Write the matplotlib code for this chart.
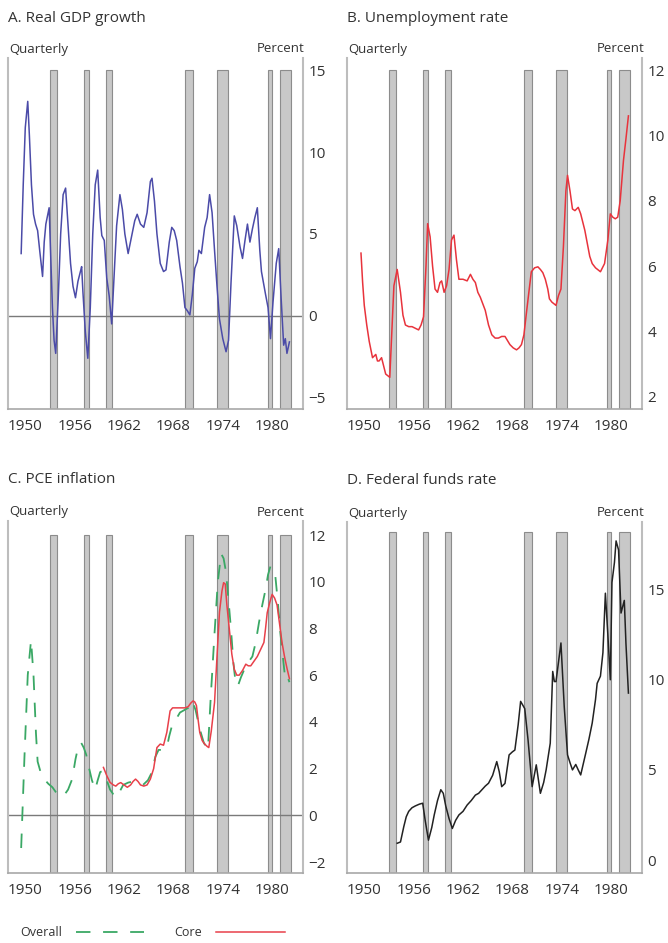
import matplotlib
matplotlib.use("Agg")
import matplotlib.pyplot as plt
from matplotlib.lines import Line2D

# recession periods (start, end) in fractional years
rec_start = [1953.5, 1957.58, 1960.25, 1969.92, 1973.83, 1980.0, 1981.5]
rec_end = [1954.37, 1958.29, 1961.08, 1970.83, 1975.17, 1980.5, 1982.83]

tick_years = [1950, 1956, 1962, 1968, 1974, 1980]

gdp_years = [1950.0, 1950.25, 1950.5, 1950.8, 1951.0, 1951.25, 1951.5, 1951.75, 1952.0, 1952.25,
             1952.6, 1952.8, 1953.0, 1953.4, 1953.6, 1953.8, 1954.0, 1954.2, 1954.5, 1954.8,
             1955.1, 1955.4, 1955.7, 1956.0, 1956.3, 1956.6, 1956.9, 1957.2, 1957.35, 1957.5,
             1957.8, 1958.1, 1958.4, 1958.7, 1959.0, 1959.3, 1959.6, 1959.8, 1960.1, 1960.4,
             1960.7, 1961.0, 1961.3, 1961.6, 1962.0, 1962.3, 1962.6, 1963.0, 1963.4, 1963.8,
             1964.1, 1964.5, 1964.9, 1965.3, 1965.7, 1965.9, 1966.2, 1966.5, 1966.9, 1967.3,
             1967.6, 1968.0, 1968.3, 1968.6, 1968.9, 1969.3, 1969.6, 1969.9, 1970.2, 1970.5,
             1970.8, 1971.1, 1971.4, 1971.6, 1971.9, 1972.3, 1972.6, 1972.9, 1973.2, 1973.5,
             1973.8, 1974.1, 1974.5, 1974.9, 1975.2, 1975.5, 1975.9, 1976.2, 1976.6, 1976.9,
             1977.2, 1977.5, 1977.8, 1978.1, 1978.4, 1978.7, 1979.0, 1979.2, 1979.7, 1980.0,
             1980.3, 1980.6, 1981.0, 1981.3, 1981.6, 1981.9, 1982.1, 1982.3, 1982.6]
gdp_values = [3.8, 8.0, 11.5, 13.1, 11.0, 8.0, 6.2, 5.6, 5.2, 4.0,
              2.4, 4.5, 5.6, 6.6, 3.5, 0.5, -1.5, -2.3, 1.0, 5.0,
              7.4, 7.8, 5.5, 3.2, 1.8, 1.1, 2.1, 2.7, 3.0, 1.5,
              -1.0, -2.6, 0.5, 5.0, 8.0, 8.9, 6.0, 4.9, 4.6, 2.3,
              1.2, -0.5, 2.5, 5.5, 7.4, 6.5, 5.0, 3.8, 4.8, 5.8,
              6.2, 5.6, 5.4, 6.3, 8.2, 8.4, 7.0, 5.0, 3.2, 2.7,
              2.8, 4.5, 5.4, 5.2, 4.6, 3.0, 2.0, 0.5, 0.3, 0.05,
              1.3, 2.9, 3.3, 4.0, 3.8, 5.4, 6.0, 7.4, 6.3, 4.0,
              1.8, -0.2, -1.4, -2.2, -1.5, 2.0, 6.1, 5.5, 4.2, 3.5,
              4.6, 5.6, 4.5, 5.3, 6.0, 6.6, 4.0, 2.7, 1.3, 0.5,
              -1.4, 0.8, 3.2, 4.1, 1.0, -1.8, -1.4, -2.3, -1.6]

unemp_years = [1950.1, 1950.3, 1950.5, 1950.8, 1951.1, 1951.5, 1951.9, 1952.1, 1952.3, 1952.6,
               1952.9, 1953.1, 1953.6, 1953.85, 1954.1, 1954.5, 1954.9, 1955.2, 1955.5, 1955.9,
               1956.3, 1956.7, 1957.1, 1957.4, 1957.7, 1958.0, 1958.2, 1958.5, 1958.8, 1959.1,
               1959.4, 1959.7, 1959.9, 1960.2, 1960.5, 1960.8, 1961.1, 1961.4, 1961.7, 1962.0,
               1962.5, 1963.0, 1963.4, 1963.7, 1964.0, 1964.3, 1964.6, 1965.2, 1965.6, 1966.0,
               1966.4, 1966.8, 1967.2, 1967.6, 1968.2, 1968.6, 1969.0, 1969.3, 1969.6, 1969.9,
               1970.2, 1970.5, 1970.8, 1971.2, 1971.6, 1971.9, 1972.2, 1972.5, 1972.8, 1973.0,
               1973.3, 1973.8, 1974.1, 1974.4, 1974.7, 1975.0, 1975.2, 1975.5, 1975.8, 1976.1,
               1976.5, 1976.8, 1977.0, 1977.3, 1977.6, 1977.9, 1978.2, 1978.6, 1979.2, 1979.7,
               1980.1, 1980.4, 1980.7, 1981.0, 1981.3, 1981.6, 1982.0, 1982.3, 1982.6]
unemp_values = [6.4, 5.5, 4.8, 4.2, 3.7, 3.2, 3.3, 3.1, 3.1, 3.2,
                2.9, 2.7, 2.6, 4.0, 5.4, 5.9, 5.2, 4.5, 4.2, 4.15,
                4.15, 4.1, 4.05, 4.2, 4.45, 6.0, 7.3, 6.9, 6.0, 5.3,
                5.2, 5.5, 5.55, 5.2, 5.4, 5.9, 6.8, 6.95, 6.2, 5.6,
                5.6, 5.55, 5.75, 5.6, 5.5, 5.2, 5.05, 4.65, 4.2, 3.9,
                3.8, 3.8, 3.85, 3.85, 3.6, 3.5, 3.44, 3.5, 3.6, 3.9,
                4.56, 5.2, 5.83, 5.95, 5.98, 5.9, 5.8, 5.6, 5.3, 5.0,
                4.9, 4.8, 5.1, 5.3, 6.6, 8.3, 8.78, 8.3, 7.75, 7.7,
                7.8, 7.6, 7.4, 7.1, 6.7, 6.3, 6.08, 5.95, 5.83, 6.08,
                6.8, 7.6, 7.5, 7.45, 7.5, 8.0, 9.24, 9.9, 10.6]

pce_years = [1950.0, 1950.4, 1950.8, 1951.2, 1951.5, 1951.8, 1952.0, 1952.4, 1952.8, 1953.3,
             1953.8, 1954.4, 1954.8, 1955.2, 1955.7, 1956.2, 1956.6, 1957.0, 1957.3, 1957.6,
             1957.9, 1958.2, 1958.6, 1959.0, 1959.3, 1959.6, 1959.9, 1960.3, 1960.8, 1961.2,
             1961.7, 1962.1, 1962.4, 1963.0, 1963.6, 1964.2, 1964.8, 1965.4, 1965.9, 1966.3,
             1966.7, 1967.2, 1967.7, 1968.0, 1968.3, 1968.8, 1969.3, 1969.8, 1970.3, 1970.8,
             1971.2, 1971.7, 1972.2, 1972.7, 1973.0, 1973.5, 1973.9, 1974.3, 1974.6, 1974.9,
             1975.2, 1975.5, 1975.8, 1976.1, 1976.4, 1976.7, 1977.3, 1977.7, 1978.1, 1978.5,
             1978.9, 1979.3, 1979.7, 1980.0, 1980.3, 1980.6, 1980.9, 1981.2, 1981.5, 1981.8,
             1982.1, 1982.4, 1982.6]
pce_values = [-1.4, 2.5, 6.0, 7.5, 6.0, 3.5, 2.3, 1.8, 1.55, 1.35,
              1.2, 0.9, 0.8, 0.85, 1.1, 1.55, 2.4, 3.05, 3.1, 2.9,
              2.6, 2.1, 1.5, 1.1, 1.5, 1.85, 1.9, 1.6, 1.1, 0.9,
              0.77, 1.1, 1.3, 1.4, 1.45, 1.4, 1.3, 1.5, 1.85, 2.5,
              2.8, 2.8, 2.9, 3.4, 3.8, 4.1, 4.4, 4.5, 4.6, 4.9,
              4.5, 3.7, 3.1, 2.83, 4.83, 7.8, 10.0, 11.2, 11.0, 10.4,
              9.2, 7.96, 6.5, 5.54, 5.6, 5.9, 6.4, 6.6, 6.8, 7.4,
              8.25, 9.0, 9.67, 10.3, 10.67, 10.5, 10.2, 9.1, 7.8, 6.8,
              5.8, 5.9, 5.7]

core_years = [1960.0, 1960.4, 1960.8, 1961.2, 1961.5, 1961.8, 1962.1, 1962.5, 1962.9, 1963.3,
              1963.6, 1963.9, 1964.2, 1964.5, 1964.9, 1965.3, 1965.7, 1966.1, 1966.5, 1966.9,
              1967.3, 1967.7, 1968.1, 1968.4, 1968.7, 1969.1, 1969.5, 1969.9, 1970.3, 1970.6,
              1970.9, 1971.1, 1971.3, 1971.5, 1971.7, 1972.0, 1972.3, 1972.6, 1972.8, 1973.1,
              1973.5, 1973.8, 1974.1, 1974.4, 1974.6, 1974.8, 1975.0, 1975.3, 1975.6, 1975.9,
              1976.2, 1976.5, 1976.9, 1977.3, 1977.6, 1977.9, 1978.3, 1978.7, 1979.1, 1979.5,
              1979.7, 1979.9, 1980.2, 1980.5, 1980.8, 1981.1, 1981.4, 1981.7, 1982.0, 1982.3,
              1982.6]
core_values = [2.05, 1.7, 1.41, 1.3, 1.25, 1.35, 1.4, 1.3, 1.2, 1.3,
               1.45, 1.55, 1.45, 1.3, 1.25, 1.3, 1.55, 2.0, 2.9, 3.05,
               3.0, 3.55, 4.47, 4.6, 4.6, 4.6, 4.6, 4.6, 4.65, 4.8,
               4.9, 4.85, 4.7, 4.1, 3.55, 3.2, 3.05, 2.95, 2.9, 3.6,
               4.83, 6.8, 8.7, 9.6, 9.96, 9.9, 9.0, 7.96, 6.9, 6.25,
               6.0, 6.0, 6.2, 6.47, 6.4, 6.4, 6.6, 6.8, 7.1, 7.4,
               8.0, 8.67, 9.1, 9.46, 9.3, 9.0, 8.2, 7.4, 6.8, 6.3,
               5.85]

ffr_years = [1954.5, 1954.9, 1955.3, 1955.6, 1955.9, 1956.3, 1956.7, 1957.2, 1957.6, 1957.9,
             1958.3, 1958.7, 1959.0, 1959.4, 1959.8, 1960.1, 1960.4, 1960.8, 1961.2, 1961.6,
             1962.0, 1962.5, 1963.0, 1963.5, 1964.0, 1964.4, 1964.8, 1965.2, 1965.6, 1966.1,
             1966.6, 1966.9, 1967.2, 1967.6, 1968.1, 1968.5, 1968.8, 1969.2, 1969.5, 1970.0,
             1970.4, 1970.9, 1971.4, 1971.9, 1972.3, 1972.6, 1973.1, 1973.4, 1973.6, 1973.8,
             1974.4, 1974.8, 1975.2, 1975.5, 1975.8, 1976.2, 1976.5, 1976.8, 1977.4, 1977.8,
             1978.2, 1978.6, 1978.8, 1979.2, 1979.5, 1979.8, 1980.1, 1980.4, 1980.6, 1980.9,
             1981.1, 1981.4, 1981.7, 1982.1, 1982.3, 1982.6]
ffr_values = [0.93, 1.0, 1.85, 2.4, 2.7, 2.9, 3.0, 3.1, 3.15, 2.2,
              1.1, 1.8, 2.5, 3.3, 3.9, 3.7, 3.0, 2.3, 1.75, 2.2,
              2.5, 2.7, 3.05, 3.3, 3.6, 3.7, 3.9, 4.1, 4.26, 4.7,
              5.46, 4.9, 4.07, 4.25, 5.83, 6.0, 6.1, 7.5, 8.8, 8.4,
              6.67, 4.07, 5.28, 3.7, 4.3, 5.0, 6.48, 10.46, 9.9, 9.9,
              12.04, 8.5, 5.83, 5.4, 5.0, 5.3, 5.0, 4.72, 5.9, 6.7,
              7.6, 8.9, 9.8, 10.2, 11.5, 14.8, 12.5, 10.0, 15.4, 16.5,
              17.7, 17.2, 13.7, 14.4, 12.0, 9.26]

TEXT = "#333333"
W, H = 668, 943


def setup_panel(fig, rect_px, title, title_y, ylim, yticks, bar_top, zero_line=False):
    left, top, right, bottom = rect_px
    ax = fig.add_axes([left / W, 1 - bottom / H, (right - left) / W, (bottom - top) / H])
    ax.set_xlim(1948.4, 1984.25)
    ax.set_ylim(*ylim)
    for s, e in zip(rec_start, rec_end):
        ax.bar(s, bar_top - ylim[0], bottom=ylim[0], width=e - s, align="edge",
               color="#c8c8c8", edgecolor="#8c8c8c", linewidth=0.8, zorder=1)
    if zero_line:
        ax.axhline(0, color="#7a7a7a", lw=1.0, zorder=2)
    ax.yaxis.tick_right()
    ax.set_yticks(yticks)
    ax.set_xticks([y + 0.5 for y in tick_years])
    ax.set_xticklabels([str(y) for y in tick_years])
    ax.tick_params(length=0, labelsize=11, colors=TEXT, pad=4)
    ax.tick_params(axis="x", pad=7)
    ax.spines["top"].set_visible(False)
    for side in ["left", "right"]:
        ax.spines[side].set_color("#bdbdbd")
        ax.spines[side].set_linewidth(1.5)
    ax.spines["bottom"].set_color("#a8a8a8")
    ax.spines["bottom"].set_linewidth(1.2)
    fig.text(left / W, 1 - title_y / H, title, fontsize=11, color=TEXT, va="center", ha="left")
    qy = 1 - (top - 9) / H
    fig.text((left + 1) / W, qy, "Quarterly", fontsize=9.5, color=TEXT, va="center", ha="left")
    fig.text((right + 2) / W, qy, "Percent", fontsize=9.5, color=TEXT, va="center", ha="right")
    return ax


def main():
    plt.rcParams["font.family"] = ["Open Sans", "DejaVu Sans"]
    fig = plt.figure(figsize=(W / 100, H / 100), dpi=100)

    ax_a = setup_panel(fig, (8, 58, 303, 409), "A. Real GDP growth", 18,
                       (-5.7, 15.75), [-5, 0, 5, 10, 15], 15, zero_line=True)
    ax_a.plot(gdp_years, gdp_values, color="#4b4ba8", lw=1.1, zorder=3)

    ax_b = setup_panel(fig, (347, 58, 642, 409), "B. Unemployment rate", 18,
                       (1.63, 12.37), [2, 4, 6, 8, 10, 12], 12)
    ax_b.plot(unemp_years, unemp_values, color="#e8333c", lw=1.1, zorder=3)

    ax_c = setup_panel(fig, (8, 521, 303, 873), "C. PCE inflation", 480,
                       (-2.47, 12.6), [-2, 0, 2, 4, 6, 8, 10, 12], 12, zero_line=True)
    ax_c.plot(pce_years, pce_values, color="#3aa865", lw=1.3, ls=(0, (8, 7)), zorder=3)
    ax_c.plot(core_years, core_values, color="#e8404a", lw=1.1, zorder=4)

    ax_d = setup_panel(fig, (347, 522, 642, 873), "D. Federal funds rate", 481,
                       (-0.72, 18.75), [0, 5, 10, 15], 18.2)
    ax_d.plot(ffr_years, ffr_values, color="#222222", lw=1.1, zorder=3)

    handles = [Line2D([], [], color="#3aa865", lw=1.3, ls=(0, (8, 7))),
               Line2D([], [], color="#e8404a", lw=1.1)]
    fig.legend(handles, ["Overall", "Core"], loc="center left",
               bbox_to_anchor=(20 / W, 1 - 932.5 / H), ncol=2, frameon=False,
               markerfirst=False, handlelength=5.5, handletextpad=1.1,
               columnspacing=2.4, borderpad=0, borderaxespad=0,
               prop={"size": 9}, labelcolor=TEXT)

    fig.savefig("out.png", dpi=100)


if __name__ == "__main__":
    main()
